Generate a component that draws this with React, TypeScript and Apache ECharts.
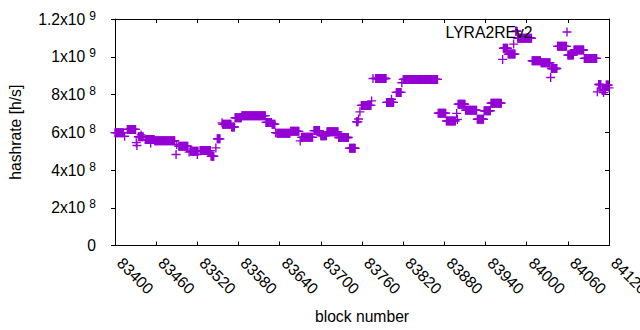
import React, { useEffect, useRef } from "react";
import * as echarts from "echarts";

// Hashrate runs: one point per block, constant value over each run
const runStart = [
  83400, 83414, 83418, 83431, 83432, 83434, 83438, 83444, 83452, 83458,
  83489, 83490, 83493, 83508, 83510, 83520, 83524, 83540, 83547, 83549,
  83556, 83557, 83570, 83575, 83585, 83620, 83629, 83634, 83636, 83656,
  83670, 83672, 83690, 83700, 83709, 83726, 83742, 83752, 83755, 83757,
  83759, 83774, 83776, 83780, 83796, 83803, 83810, 83818, 83820, 83871,
  83883, 83898, 83899, 83900, 83911, 83928, 83938, 83948, 83965, 83966,
  83973, 83981, 83984, 83987, 84008, 84021, 84035, 84036, 84045, 84060,
  84069, 84084, 84103, 84105, 84110, 84112, 84116, 84120,
];
const runEnd = [
  83412, 83414, 83430, 83431, 83432, 83441, 83438, 83457, 83452, 83487,
  83489, 83490, 83506, 83508, 83521, 83520, 83539, 83544, 83547, 83553,
  83556, 83569, 83574, 83584, 83619, 83628, 83633, 83634, 83655, 83668,
  83670, 83688, 83698, 83708, 83725, 83740, 83750, 83754, 83755, 83757,
  83773, 83774, 83776, 83795, 83806, 83803, 83817, 83818, 83870, 83882,
  83896, 83898, 83899, 83910, 83927, 83937, 83947, 83963, 83965, 83972,
  83983, 83981, 83986, 84007, 84020, 84034, 84035, 84044, 84058, 84068,
  84083, 84102, 84103, 84108, 84115, 84112, 84119, 84120,
];
// values in units of 1e8 h/s
const runValue = [
  5.98, 5.79, 6.15, 5.45, 5.3, 5.76, 5.86, 5.61, 5.43, 5.55,
  4.82, 5.35, 5.26, 4.95, 4.99, 4.82, 5.03, 4.73, 5.17, 5.65,
  6.5, 6.42, 6.28, 6.77, 6.88, 6.52, 6.43, 5.98, 5.95, 6.05,
  5.54, 5.73, 6.09, 5.82, 6.02, 5.72, 5.15, 6.55, 6.7, 7.08,
  7.42, 7.66, 8.85, 8.85, 7.58, 7.75, 8.11, 8.62, 8.8, 7.01,
  6.6, 7.0, 6.68, 7.49, 7.17, 6.69, 7.14, 7.54, 9.86, 10.45,
  10.14, 10.67, 11.35, 10.98, 9.79, 9.68, 8.9, 9.38, 10.55, 10.09,
  10.36, 9.91, 8.14, 8.53, 8.23, 8.1, 8.5, 8.35,
];

const seriesName = "LYRA2REv2";
const xMin = 83400;
const xMax = 84120;
const xStep = 60;
const yMin = 0;
const yMax = 1.2e9;
const yStep = 2e8;

const PLUS =
  "path://M-0.15,-1H0.15V-0.15H1V0.15H0.15V1H-0.15V0.15H-1V-0.15H-0.15Z";
const FONT = "'Liberation Sans', Arial, sans-serif";
const FS = 15.7;

export default function App() {
  const ref = useRef<HTMLDivElement>(null);
  useEffect(() => {
    if (!ref.current) return;
    const chart = echarts.init(ref.current, undefined, { renderer: "svg" });
    const data: [number, number][] = [];
    for (let i = 0; i < runStart.length; i++) {
      for (let b = runStart[i]; b <= runEnd[i]; b++) {
        data.push([b, runValue[i] * 1e8]);
      }
    }
    const yLabel = (v: number) => {
      if (v === 0) return "{m|0}";
      const e = Math.floor(Math.log10(v) + 1e-9);
      const m = +(v / Math.pow(10, e)).toFixed(1);
      return `{m|${m}x10}{s|${e}}`;
    };
    const lineStyle = { color: "#000", width: 1 };
    chart.setOption({
      animation: false,
      backgroundColor: "#fff",
      textStyle: { fontFamily: FONT },
      grid: {
        left: 115,
        right: 31,
        top: 19,
        bottom: 84.5,
        containLabel: false,
        outerBoundsMode: "none",
      },
      legend: {
        data: [{ name: seriesName, icon: PLUS }],
        align: "right",
        right: 68.5,
        top: 24,
        padding: 0,
        itemWidth: 9,
        itemHeight: 9,
        itemGap: 0,
        textStyle: {
          fontSize: FS,
          color: "#000",
          fontFamily: FONT,
          padding: [0, 25, 0, 0],
        },
      },
      xAxis: [
        {
          type: "value",
          min: xMin,
          max: xMax,
          interval: xStep,
          name: "block number",
          nameLocation: "middle",
          nameGap: 63,
          nameTextStyle: { fontSize: FS, color: "#000", fontFamily: FONT },
          axisLine: { show: true, onZero: false, lineStyle },
          axisTick: { show: true, inside: true, length: 4, lineStyle },
          axisLabel: {
            rotate: -45,
            margin: 10,
            padding: [0, 0, 0, 7],
            fontSize: FS,
            color: "#000",
            fontFamily: FONT,
            showMinLabel: true,
            showMaxLabel: true,
            formatter: (v: number) => String(v),
          },
          splitLine: { show: false },
        },
        {
          type: "value",
          position: "top",
          min: xMin,
          max: xMax,
          interval: xStep,
          axisLine: { show: true, onZero: false, lineStyle },
          axisTick: { show: true, inside: true, length: 4, lineStyle },
          axisLabel: { show: false },
          splitLine: { show: false },
        },
      ],
      yAxis: [
        {
          type: "value",
          min: yMin,
          max: yMax,
          interval: yStep,
          name: "hashrate [h/s]",
          nameLocation: "middle",
          nameGap: 92,
          nameTextStyle: { fontSize: FS, color: "#000", fontFamily: FONT },
          axisLine: { show: true, onZero: false, lineStyle },
          axisTick: { show: true, inside: false, length: 4, lineStyle },
          axisLabel: {
            margin: 19,
            formatter: yLabel,
            rich: {
              m: { fontSize: FS, color: "#000", fontFamily: FONT },
              s: {
                fontSize: 12,
                color: "#000",
                fontFamily: FONT,
                padding: [0, 0, 7, 4],
              },
            },
          },
          splitLine: { show: false },
        },
        {
          type: "value",
          position: "right",
          min: yMin,
          max: yMax,
          interval: yStep,
          axisLine: { show: true, onZero: false, lineStyle },
          axisTick: { show: true, inside: true, length: 4, lineStyle },
          axisLabel: { show: false },
          splitLine: { show: false },
        },
      ],
      series: [
        {
          name: seriesName,
          type: "scatter",
          xAxisIndex: 0,
          yAxisIndex: 0,
          data,
          symbol: PLUS,
          symbolSize: 9,
          itemStyle: { color: "#9400d3", opacity: 1 },
        },
      ],
    });
    return () => chart.dispose();
  }, []);
  return (
    <div
      ref={ref}
      style={{ position: "fixed", left: 0, top: 0, width: 640, height: 330 }}
    />
  );
}
